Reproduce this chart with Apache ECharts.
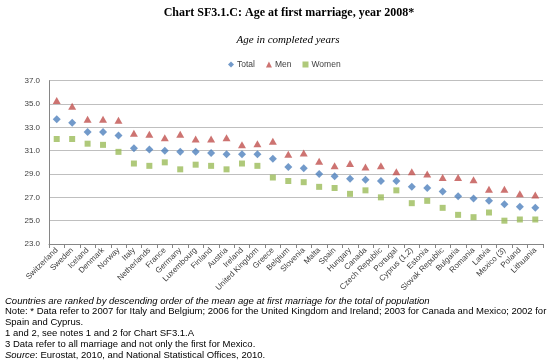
<!DOCTYPE html>
<html>
<head>
<meta charset="utf-8">
<script src="https://cdn.jsdelivr.net/npm/echarts@6/dist/echarts.min.js"></script>
<style>
html,body{margin:0;padding:0;background:#fff;}
#c{width:552px;height:363px;}
</style>
</head>
<body>
<div id="c"></div>
<script>
const categories = ["Switzerland","Sweden","Iceland","Denmark","Norway","Italy","Netherlands","France","Germany","Luxembourg","Finland","Austria","Ireland","United Kingdom","Greece","Belgium","Slovenia","Malta","Spain","Hungary","Canada","Czech Republic","Portugal","Cyprus (1,2)","Estonia","Slovak Republic","Bulgaria","Romania","Latvia","Mexico (3)","Poland","Lithuania"];
const totalValues = [33.7,33.4,32.6,32.6,32.3,31.2,31.1,31.0,30.9,30.9,30.8,30.7,30.7,30.7,30.3,29.6,29.5,29.0,28.8,28.6,28.5,28.4,28.4,27.9,27.8,27.5,27.1,26.9,26.7,26.4,26.2,26.1];
const menValues = [35.3,34.8,33.7,33.7,33.6,32.5,32.4,32.1,32.4,32.0,32.0,32.1,31.5,31.6,31.8,30.7,30.8,30.1,29.7,29.9,29.6,29.7,29.2,29.2,29.0,28.7,28.7,28.5,27.7,27.7,27.3,27.2];
const womenValues = [32.0,32.0,31.6,31.5,30.9,29.9,29.7,30.0,29.4,29.8,29.7,29.4,29.9,29.7,28.7,28.4,28.3,27.9,27.8,27.3,27.6,27.0,27.6,26.5,26.7,26.1,25.5,25.3,25.7,25.0,25.1,25.1];
const yTicks = {min: 23, max: 37, interval: 2};
const titleText = "Chart SF3.1.C: Age at first marriage, year 2008*";
const subtitleText = "Age in completed years";
const noteLines = [
  "Countries are ranked by descending order of the mean age at first marriage for the total of population",
  "Note: * Data refer to 2007 for Italy and Belgium; 2006 for the United Kingdom and Ireland; 2003 for Canada and Mexico; 2002 for",
  "Spain and Cyprus.",
  "1 and 2, see notes 1 and 2 for Chart SF3.1.A",
  "3 Data refer to all marriage and not only the first for Mexico.",
  "Source: Eurostat, 2010, and National Statistical Offices, 2010."
];

const chart = echarts.init(document.getElementById('c'), null, {renderer: 'canvas'});

const noteFont = '"Liberation Sans", Arial, sans-serif';
const noteSize = 9.5;
const noteGraphics = noteLines.map((t, i) => {
  const y = 296 + i * 10.8;
  if (i === 5) {
    return {
      type: 'text', left: 5, top: y,
      style: {
        text: '{it|Source}: Eurostat, 2010, and National Statistical Offices, 2010.',
        font: noteSize + 'px ' + noteFont, fill: '#000',
        rich: {it: {fontStyle: 'italic', fontFamily: noteFont, fontSize: noteSize, color: '#000'}}
      }
    };
  }
  return {
    type: 'text', left: 5, top: y,
    style: {
      text: t,
      font: (i === 0 ? 'italic ' : '') + noteSize + 'px ' + noteFont,
      fill: '#000'
    }
  };
});

const option = {
  backgroundColor: '#fff',
  animation: false,
  title: [
    {text: titleText, left: 284, top: 2, textAlign: 'center',
     textStyle: {fontFamily: '"Liberation Serif", "Times New Roman", serif', fontWeight: 'bold', fontSize: 12, color: '#000'}},
    {text: subtitleText, left: 283, top: 30, textAlign: 'center',
     textStyle: {fontFamily: '"Liberation Serif", "Times New Roman", serif', fontStyle: 'italic', fontWeight: 'normal', fontSize: 11, color: '#000'}}
  ],
  legend: {
    left: 223, top: 55,
    itemWidth: 6, itemHeight: 6, itemGap: 11,
    textStyle: {fontFamily: '"Liberation Sans", Arial, sans-serif', fontSize: 8.5, color: '#404040', padding: [0,0,0,-2]},
    data: [
      {name: 'Total', icon: 'diamond'},
      {name: 'Men', icon: 'triangle'},
      {name: 'Women', icon: 'rect'}
    ]
  },
  grid: {left: 49, right: 9, top: 80.7, bottom: 119, containLabel: false, outerBoundsMode: 'none'},
  xAxis: {
    type: 'category',
    data: categories,
    boundaryGap: true,
    axisLine: {show: true, lineStyle: {color: '#868686', width: 1}},
    axisTick: {show: true, length: 4, inside: false, alignWithLabel: false, interval: 0, lineStyle: {color: '#868686'}},
    axisLabel: {interval: 0, rotate: 45, margin: 5, fontSize: 8, fontFamily: '"Liberation Sans", Arial, sans-serif', color: '#404040'},
    splitLine: {show: false}
  },
  yAxis: {
    type: 'value',
    min: yTicks.min, max: yTicks.max, interval: yTicks.interval,
    axisLine: {show: true, lineStyle: {color: '#868686', width: 1}},
    axisTick: {show: false},
    axisLabel: {formatter: v => v.toFixed(1), fontSize: 8, margin: 9, fontFamily: '"Liberation Sans", Arial, sans-serif', color: '#404040'},
    splitLine: {show: true, lineStyle: {color: '#bfbfbf', width: 1}}
  },
  series: [
    {name: 'Total', type: 'scatter', data: totalValues, symbol: 'diamond', symbolSize: [8, 8],
     itemStyle: {color: '#4f81bd'}, z: 3},
    {name: 'Men', type: 'scatter', data: menValues, symbol: 'triangle', symbolSize: [8, 7],
     itemStyle: {color: '#c0504d'}, z: 2},
    {name: 'Women', type: 'scatter', data: womenValues, symbol: 'rect', symbolSize: [6, 6],
     itemStyle: {color: '#9bbb59'}, z: 2}
  ],
  graphic: noteGraphics
};
chart.setOption(option);
</script>
</body>
</html>
